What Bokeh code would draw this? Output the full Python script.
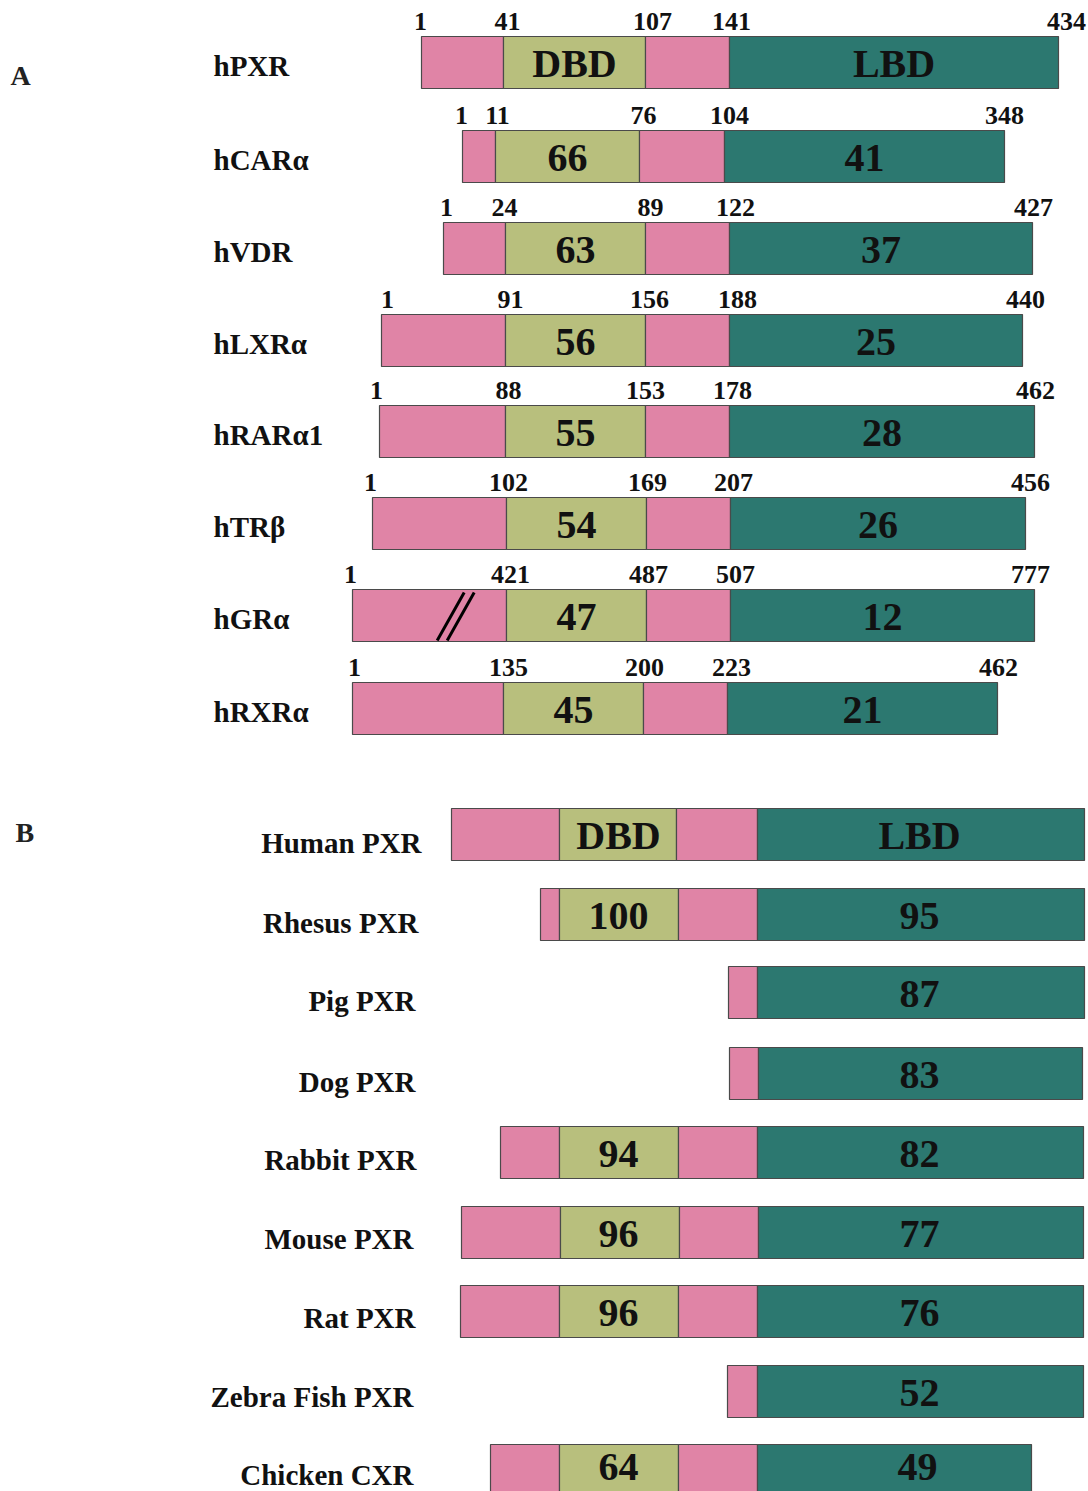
from bokeh.plotting import figure
from bokeh.models import Range1d
from bokeh.core.properties import value
from bokeh.embed import file_html
from bokeh.resources import INLINE

# ---------------- data ----------------
# Panel A: human nuclear receptors, residue boundaries and % identity to hPXR
names_a = ["hPXR", "hCARα", "hVDR", "hLXRα", "hRARα1", "hTRβ", "hGRα", "hRXRα"]
res_start = [1, 1, 1, 1, 1, 1, 1, 1]
res_dbd_start = [41, 11, 24, 91, 88, 102, 421, 135]
res_dbd_end = [107, 76, 89, 156, 153, 169, 487, 200]
res_lbd_start = [141, 104, 122, 188, 178, 207, 507, 223]
res_end = [434, 348, 427, 440, 462, 456, 777, 462]
dbd_ident_a = ["DBD", "66", "63", "56", "55", "54", "47", "45"]
lbd_ident_a = ["LBD", "41", "37", "25", "28", "26", "12", "21"]

# Panel B: PXR orthologues, % identity to human PXR
names_b = ["Human PXR", "Rhesus PXR", "Pig PXR", "Dog PXR", "Rabbit PXR",
           "Mouse PXR", "Rat PXR", "Zebra Fish PXR", "Chicken CXR"]
dbd_ident_b = ["DBD", "100", None, None, "94", "96", "96", None, "64"]
lbd_ident_b = ["LBD", "95", "87", "83", "82", "77", "76", "52", "49"]

# ---------------- layout (schematic, in page pixels) ----------------
edges_a = [[421, 503, 645, 729, 1058], [462, 495, 639, 724, 1004],
           [443, 505, 645, 729, 1032], [381, 505, 645, 729, 1022],
           [379, 505, 645, 729, 1034], [372, 506, 646, 730, 1025],
           [352, 506, 646, 730, 1034], [352, 503, 643, 727, 997]]
num_x_a = [[420, 507, 652, 731, 1066], [461, 497, 643, 729, 1004],
           [446, 504, 650, 735, 1033], [387, 510, 649, 737, 1025],
           [376, 508, 645, 732, 1035], [370, 508, 647, 733, 1030],
           [350, 510, 648, 735, 1030], [354, 508, 644, 731, 998]]
tops_a = [36, 130, 222, 314, 405, 497, 589, 682]

edges_b = [[451, 559, 676, 757, 1084], [540, 559, 678, 757, 1084],
           [728, None, None, 757, 1084], [729, None, None, 758, 1082],
           [500, 559, 678, 757, 1083], [461, 560, 679, 758, 1083],
           [460, 559, 678, 757, 1083], [727, None, None, 757, 1083],
           [490, 559, 678, 757, 1031]]
tops_b = [808, 888, 966, 1047, 1126, 1206, 1285, 1365, 1444]
label_right_b = [421, 418, 415, 415, 416, 413, 415, 413, 413]
label_dy_b = [8, 8, 8, 8, 7, 6, 6, 5, 4]
ident_dy_b = [1, 1, 1, 1, 1, 1, 1, 1, -4]
DBD_COL_B, LBD_COL_B = 618, 919
BAR_H = 52

PINK = "#e084a6"
OLIVE = "#b8bf7d"
TEAL = "#2c7870"
EDGE = "#4a4a4a"
INK = "#111111"
FONT = value("Liberation Serif")

W, H = 1088, 1491
p = figure(width=W, height=H, x_range=Range1d(0, W), y_range=Range1d(H, 0),
           output_backend="svg", toolbar_location=None, min_border=0,
           x_axis_location=None, y_axis_location=None)
p.grid.visible = False
p.outline_line_color = None
p.background_fill_color = "white"

L, R, T, B, C = [], [], [], [], []
def seg(l, r, t, c):
    L.append(l); R.append(r); T.append(t); B.append(t + BAR_H); C.append(c)

for e, t in zip(edges_a, tops_a):
    seg(e[0], e[1], t, PINK)
    seg(e[1], e[2], t, OLIVE)
    seg(e[2], e[3], t, PINK)
    seg(e[3], e[4], t, TEAL)
for e, t in zip(edges_b, tops_b):
    if e[1] is None:
        seg(e[0], e[3], t, PINK)
    else:
        seg(e[0], e[1], t, PINK)
        seg(e[1], e[2], t, OLIVE)
        seg(e[2], e[3], t, PINK)
    seg(e[3], e[4], t, TEAL)

p.quad(left=L, right=R, top=T, bottom=B, fill_color=C, line_color=EDGE, line_width=1.2)

# break mark on hGRα N-terminal region
gi = names_a.index("hGRα")
ge, gt = edges_a[gi], tops_a[gi]
bx = ge[0] + 0.55 * (ge[1] - ge[0])
for off in (0, 10):
    p.line(x=[bx + off, bx + off + 27], y=[gt + BAR_H - 1, gt + 3], line_color="black", line_width=3)

# residue numbers
nx, ny, nt = [], [], []
for i in range(len(names_a)):
    vals = [res_start[i], res_dbd_start[i], res_dbd_end[i], res_lbd_start[i], res_end[i]]
    for x, v in zip(num_x_a[i], vals):
        nx.append(x); ny.append(tops_a[i] - 15); nt.append(str(v))
p.text(x=nx, y=ny, text=nt, text_font=FONT, text_font_style="bold", text_font_size="26px",
       text_align="center", text_baseline="middle", text_color=INK)

# identity labels
ix, iy, it = [], [], []
for i in range(len(names_a)):
    e, t = edges_a[i], tops_a[i]
    ix += [(e[1] + e[2]) / 2, (e[3] + e[4]) / 2]
    iy += [t + BAR_H / 2 + 1] * 2
    it += [dbd_ident_a[i], lbd_ident_a[i]]
for i in range(len(names_b)):
    t = tops_b[i]
    yc = t + BAR_H / 2 + ident_dy_b[i]
    if dbd_ident_b[i] is not None:
        ix.append(DBD_COL_B); iy.append(yc); it.append(dbd_ident_b[i])
    ix.append(LBD_COL_B - (2 if i == len(names_b) - 1 else 0)); iy.append(yc); it.append(lbd_ident_b[i])
p.text(x=ix, y=iy, text=it, text_font=FONT, text_font_style="bold", text_font_size="40px",
       text_align="center", text_baseline="middle", text_color=INK)

# names
p.text(x=[213] * len(names_a), y=[t + BAR_H / 2 + 3 for t in tops_a], text=names_a,
       text_font=FONT, text_font_style="bold", text_font_size="29px",
       text_align="left", text_baseline="middle", text_color=INK)
p.text(x=label_right_b, y=[t + BAR_H / 2 + d for t, d in zip(tops_b, label_dy_b)], text=names_b,
       text_font=FONT, text_font_style="bold", text_font_size="29px",
       text_align="right", text_baseline="middle", text_color=INK)

# panel letters
p.text(x=[10, 15], y=[75, 832], text=["A", "B"], text_font=FONT, text_font_style="bold",
       text_font_size="28px", text_align="left", text_baseline="middle", text_color="#222222")

open("out.html", "w").write(file_html(p, INLINE))
